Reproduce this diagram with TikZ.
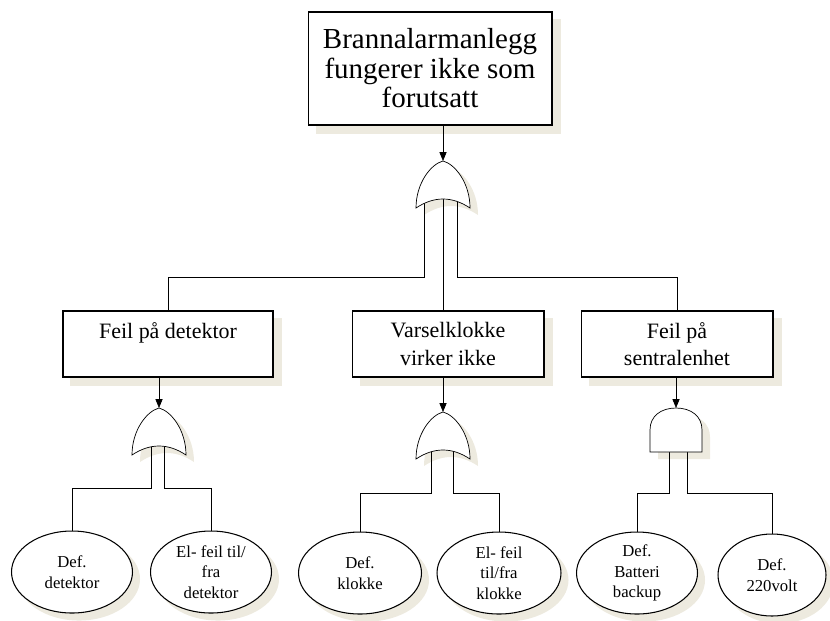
\documentclass[tikz,border=0pt]{standalone}
\usepackage{fontspec}
\setmainfont{Liberation Serif}
\usepackage{tikz}
\usetikzlibrary{shapes.geometric,arrows.meta,calc}
\definecolor{shadowtan}{RGB}{237,234,223}
\pgfdeclarelayer{bg}
\pgfdeclarelayer{wire}
\pgfsetlayers{bg,wire,main}

\begin{document}
\begin{tikzpicture}[x=0.02cm,y=-0.02cm,line width=0.6pt,>={Triangle[length=5pt,width=4pt]}]
\tikzset{
  box/.style={draw,fill=white,inner sep=0pt,align=center,font=\fontsize{12.5}{15.5}\selectfont},
  basic/.style={draw,ellipse,fill=white,inner sep=0pt,align=center,minimum height=1.64cm,font=\fontsize{9.5}{11.8}\selectfont},
  orgate/.pic={
    \begin{pgfonlayer}{bg}
      \fill[shadowtan,shift={(8,7)}] (-27,47) .. controls (-27,22) and (-12,3) .. (0,0) .. controls (12,3) and (27,22) .. (27,47) .. controls (9,35) and (-9,35) .. cycle;
    \end{pgfonlayer}
    \draw[fill=white] (-27,47) .. controls (-27,22) and (-12,3) .. (0,0) .. controls (12,3) and (27,22) .. (27,47) .. controls (9,35) and (-9,35) .. cycle;
    \coordinate (-top) at (0,0);
    \coordinate (-in) at (0,34);
  },
  andgate/.pic={
    \begin{pgfonlayer}{bg}
      \fill[shadowtan,shift={(8,7)}] (-26,44) -- (-26,22) .. controls (-26,8) and (-15,0) .. (0,0) .. controls (15,0) and (26,8) .. (26,22) -- (26,44) -- cycle;
    \end{pgfonlayer}
    \draw[fill=white] (-26,44) -- (-26,22) .. controls (-26,8) and (-15,0) .. (0,0) .. controls (15,0) and (26,8) .. (26,22) -- (26,44) -- cycle;
    \coordinate (-top) at (0,0);
    \coordinate (-in) at (0,34);
  }
}
\useasboundingbox (0,0) rectangle (830,620);
% top event
\node[box,minimum width=4.88cm,minimum height=2.26cm,font=\fontsize{16.5}{16.8}\selectfont] (b0) at (430,68.5) {Brannalarmanlegg\\fungerer ikke som\\forutsatt};
% intermediate events
\node[box,minimum width=4.2cm,minimum height=1.32cm] (b1) at (168,344) {Feil på detektor\\~};
\node[box,minimum width=3.84cm,minimum height=1.32cm] (b2) at (448,344) {Varselklokke\\virker ikke};
\node[box,minimum width=3.84cm,minimum height=1.32cm] (b3) at (677,344) {Feil på\\sentralenhet};
% gates
\pic (g0) at (443,161) {orgate};
\pic (g1) at (159,408) {orgate};
\pic (g2) at (443,412) {orgate};
\pic (g3) at (676,408) {andgate};
% basic events
\node[basic,minimum width=2.42cm] (e1) at (72,572) {Def.\\detektor};
\node[basic,minimum width=2.42cm] (e2) at (211,572) {El- feil til/\\fra\\detektor};
\node[basic,minimum width=2.46cm] (e3) at (360,573) {Def.\\klokke};
\node[basic,minimum width=2.48cm] (e4) at (499,573) {El- feil\\til/fra\\klokke};
\node[basic,minimum width=2.42cm] (e5) at (637,573) {Def.\\Batteri\\backup};
\node[basic,minimum width=2.16cm] (e6) at (772,575) {Def.\\220volt};
% shadows
\begin{pgfonlayer}{bg}
  \foreach \nd in {b0,b1,b2,b3}
    \fill[shadowtan] ([shift={(8,8)}]\nd.north west) rectangle ([shift={(8,8)}]\nd.south east);
  \foreach \nd in {e1,e2,e3,e4,e5,e6}
    \fill[shadowtan] let \p1=(\nd.center),\p2=(\nd.east),\p3=(\nd.north) in
      ([shift={(7,7)}]\nd.center) ellipse ({\x2-\x1} and {\y3-\y1});
\end{pgfonlayer}
% connectors
\begin{pgfonlayer}{wire}
  \coordinate (bus0) at (0,277);
  \coordinate (bus1) at (0,488);
  \coordinate (bus2) at (0,493);
  \coordinate (bus3) at (0,493);
  \draw[->] (b0.south -| g0-top) -- (g0-top);
  \draw ($(g0-in)+(-19,0)$) |- (b1.north |- bus0) -- (b1.north);
  \draw (g0-in) -- (g0-in |- b2.north);
  \draw ($(g0-in)+(14,0)$) |- (b3.north |- bus0) -- (b3.north);
  \draw[->] (b1.south -| g1-top) -- (g1-top);
  \draw ($(g1-in)+(-8,0)$) |- (e1.north |- bus1) -- (e1.north);
  \draw ($(g1-in)+(5,0)$) |- (e2.north |- bus1) -- (e2.north);
  \draw[->] (b2.south -| g2-top) -- (g2-top);
  \draw ($(g2-in)+(-12,0)$) |- (e3.north |- bus2) -- (e3.north);
  \draw ($(g2-in)+(10,0)$) |- (e4.north |- bus2) -- (e4.north);
  \draw[->] (b3.south -| g3-top) -- (g3-top);
  \draw ($(g3-in)+(-7,0)$) |- (e5.north |- bus3) -- (e5.north);
  \draw ($(g3-in)+(11,0)$) |- (e6.north |- bus3) -- (e6.north);
\end{pgfonlayer}
\end{tikzpicture}
\end{document}
